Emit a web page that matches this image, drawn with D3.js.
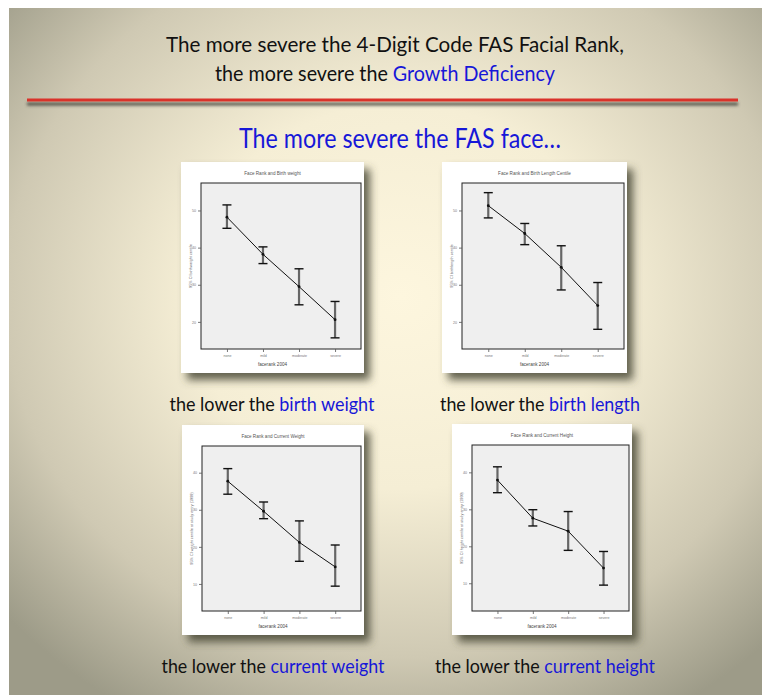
<!DOCTYPE html>
<html>
<head>
<meta charset="utf-8">
<script src="https://cdn.jsdelivr.net/npm/d3@7"></script>
<style>
  html, body { margin: 0; padding: 0; background: #fff; }
  svg { display: block; }
</style>
</head>
<body>
<script>
// categories on the x axis of every panel
var categories = ["none", "mild", "moderate", "severe"];

// birth weight centile (mean, 95% CI)
var birthWeightMean = [48.2, 38.2, 29.5, 20.6];
var birthWeightLow  = [45.2, 35.7, 24.6, 15.7];
var birthWeightHigh = [51.5, 40.2, 34.3, 25.5];

// birth length centile
var birthLengthMean = [51.3, 43.8, 34.7, 24.4];
var birthLengthLow  = [48.0, 40.8, 28.6, 18.0];
var birthLengthHigh = [54.8, 46.5, 40.5, 30.6];

// current weight centile
var currentWeightMean = [37.7, 29.6, 21.2, 14.6];
var currentWeightLow  = [34.2, 27.6, 16.1, 9.4];
var currentWeightHigh = [41.1, 32.1, 27.0, 20.5];

// current height centile
var currentHeightMean = [37.9, 27.6, 24.1, 14.1];
var currentHeightLow  = [34.5, 25.5, 18.9, 9.5];
var currentHeightHigh = [41.5, 29.9, 29.4, 18.6];

// y tick labels
var birthTicks = [20, 30, 40, 50];
var currentTicks = [10, 20, 30, 40];

var panelTitles = ["Face Rank and Birth weight", "Face Rank and Birth Length Centile",
                   "Face Rank and Current Weight", "Face Rank and Current Height"];
var yLabels = ["95% CI birthweight centile", "95% CI birthlength centile",
               "95% CI weight centile at study entry (1999)", "95% CI height centile at study entry (1999)"];
var captionBlack = "the lower the ";
var captionBlue = ["birth weight", "birth length", "current weight", "current height"];

var W = 762, H = 695;
var blue = "#1717d8";

var svg = d3.select("body").append("svg")
  .attr("width", W)
  .attr("height", H);

var defs = svg.append("defs");

var bg = defs.append("radialGradient")
  .attr("id", "bg")
  .attr("cx", "52%").attr("cy", "42%").attr("r", "70%");
bg.append("stop").attr("offset", "0%").attr("stop-color", "#fdf6de");
bg.append("stop").attr("offset", "40%").attr("stop-color", "#f5eed5");
bg.append("stop").attr("offset", "75%").attr("stop-color", "#cfc9b3");
bg.append("stop").attr("offset", "100%").attr("stop-color", "#9d9b88");

var sh = defs.append("filter").attr("id", "shadow")
  .attr("x", "-10%").attr("y", "-10%").attr("width", "130%").attr("height", "130%");
sh.append("feDropShadow")
  .attr("dx", 6).attr("dy", 7).attr("stdDeviation", 4)
  .attr("flood-color", "#4a4634").attr("flood-opacity", 0.85);

// shadow under the red rule, in user space so a thin shape still gets it
var lsh = defs.append("filter").attr("id", "lineshadow")
  .attr("filterUnits", "userSpaceOnUse")
  .attr("x", 15).attr("y", 90).attr("width", 735).attr("height", 25);
lsh.append("feDropShadow")
  .attr("dx", 0).attr("dy", 4).attr("stdDeviation", 1.6)
  .attr("flood-color", "#3f433a").attr("flood-opacity", 0.9);

// slide background
svg.append("rect")
  .attr("x", 9).attr("y", 8)
  .attr("width", W - 9).attr("height", H - 8)
  .attr("fill", "url(#bg)");

var font = "Lato, 'Open Sans', sans-serif";

// header
var head = svg.append("g").attr("font-family", font).attr("text-anchor", "middle");
head.append("text")
  .attr("x", 395).attr("y", 52)
  .attr("font-size", 21).attr("fill", "#111")
  .attr("textLength", 458).attr("lengthAdjust", "spacingAndGlyphs")
  .text("The more severe the 4-Digit Code FAS Facial Rank,");
var h2 = head.append("text")
  .attr("x", 385).attr("y", 81)
  .attr("font-size", 21).attr("fill", "#111")
  .attr("textLength", 340).attr("lengthAdjust", "spacingAndGlyphs");
h2.append("tspan").text("the more severe the ");
h2.append("tspan").attr("fill", blue).text("Growth Deficiency");

svg.append("rect")
  .attr("x", 27).attr("y", 98.5)
  .attr("width", 711).attr("height", 3)
  .attr("fill", "#d9322b")
  .attr("filter", "url(#lineshadow)");

head.append("text")
  .attr("x", 400).attr("y", 148)
  .attr("font-size", 26).attr("fill", blue)
  .attr("textLength", 322).attr("lengthAdjust", "spacingAndGlyphs")
  .text("The more severe the FAS face…");

// panels
var panels = [
  {mean: birthWeightMean, low: birthWeightLow, high: birthWeightHigh, ticks: birthTicks, domain: [12.7, 57.4]},
  {mean: birthLengthMean, low: birthLengthLow, high: birthLengthHigh, ticks: birthTicks, domain: [12.7, 57.4]},
  {mean: currentWeightMean, low: currentWeightLow, high: currentWeightHigh, ticks: currentTicks, domain: [2.7, 47.2]},
  {mean: currentHeightMean, low: currentHeightLow, high: currentHeightHigh, ticks: currentTicks, domain: [2.5, 47.4]}
];

// plot rectangles inside each card
var boxes = [
  {x: 201, y: 183, w: 160, h: 166},
  {x: 462, y: 183, w: 162, h: 166},
  {x: 202, y: 446, w: 159, h: 165},
  {x: 472, y: 445, w: 157, h: 166}
];

// captions: centre, baseline and width
var captionPos = [{x: 272, y: 411, w: 205}, {x: 540, y: 411, w: 200},
                  {x: 273, y: 673, w: 223}, {x: 545, y: 673, w: 220}];

panels.forEach(function(p, i) {
  var b = boxes[i];
  var card = {x: b.x - 20, y: b.y - 21, w: b.w + 23, h: b.h + 45};
  var g = svg.append("g").attr("font-family", "'Liberation Sans', Arial, sans-serif");

  g.append("rect")
    .attr("x", card.x).attr("y", card.y)
    .attr("width", card.w).attr("height", card.h)
    .attr("fill", "#fff")
    .attr("filter", "url(#shadow)");

  g.append("rect")
    .attr("x", b.x).attr("y", b.y)
    .attr("width", b.w).attr("height", b.h)
    .attr("fill", "#efefef")
    .attr("stroke", "#222").attr("stroke-width", 1);

  var x = d3.scalePoint().domain(categories).range([b.x, b.x + b.w]).padding(0.72);
  var y = d3.scaleLinear().domain(p.domain).range([b.y + b.h, b.y]);

  var xAxis = d3.axisBottom(x).tickSize(3).tickPadding(2);
  var gx = g.append("g").attr("transform", "translate(0," + (b.y + b.h) + ")").call(xAxis);
  gx.select(".domain").remove();
  gx.selectAll("line").attr("stroke", "#555").attr("stroke-width", 0.8);
  gx.selectAll("text").attr("font-size", 3.6).attr("fill", "#777").attr("font-family", null);

  var yAxis = d3.axisLeft(y).tickValues(p.ticks).tickSize(3).tickPadding(2).tickFormat(d3.format("d"));
  var gy = g.append("g").attr("transform", "translate(" + b.x + ",0)").call(yAxis);
  gy.select(".domain").remove();
  gy.selectAll("line").attr("stroke", "#555").attr("stroke-width", 0.8);
  gy.selectAll("text").attr("font-size", 3.6).attr("fill", "#777").attr("font-family", null);

  // title & axis labels
  g.append("text")
    .attr("x", card.x + card.w / 2).attr("y", b.y - 8)
    .attr("text-anchor", "middle").attr("font-size", 4.6).attr("fill", "#555")
    .text(panelTitles[i]);
  g.append("text")
    .attr("x", card.x + card.w / 2).attr("y", b.y + b.h + 17)
    .attr("text-anchor", "middle").attr("font-size", 4.6).attr("fill", "#444")
    .text("facerank 2004");
  g.append("text")
    .attr("transform", "translate(" + (b.x - 9) + "," + (b.y + b.h / 2) + ") rotate(-90)")
    .attr("text-anchor", "middle").attr("font-size", 3.8).attr("fill", "#666")
    .text(yLabels[i]);

  // error bars
  var bars = g.append("g");
  categories.forEach(function(c, k) {
    var cx = x(c);
    bars.append("line")
      .attr("x1", cx).attr("x2", cx)
      .attr("y1", y(p.high[k])).attr("y2", y(p.low[k]))
      .attr("stroke", "#666").attr("stroke-width", 2.2);
    [p.high[k], p.low[k]].forEach(function(v) {
      bars.append("line")
        .attr("x1", cx - 4.5).attr("x2", cx + 4.5)
        .attr("y1", y(v)).attr("y2", y(v))
        .attr("stroke", "#111").attr("stroke-width", 1.4);
    });
  });

  var line = d3.line()
    .x(function(d, k) { return x(categories[k]); })
    .y(function(d) { return y(d); });
  g.append("path")
    .attr("d", line(p.mean))
    .attr("fill", "none").attr("stroke", "#111").attr("stroke-width", 1);

  g.selectAll(".pt").data(p.mean).enter().append("circle")
    .attr("cx", function(d, k) { return x(categories[k]); })
    .attr("cy", function(d) { return y(d); })
    .attr("r", 1.4).attr("fill", "#111");

  // caption below card
  var cap = svg.append("text")
    .attr("x", captionPos[i].x).attr("y", captionPos[i].y)
    .attr("text-anchor", "middle")
    .attr("font-family", font).attr("font-size", 19).attr("fill", "#111")
    .attr("textLength", captionPos[i].w).attr("lengthAdjust", "spacingAndGlyphs");
  cap.append("tspan").text(captionBlack);
  cap.append("tspan").attr("fill", blue).text(captionBlue[i]);
});
</script>
</body>
</html>
